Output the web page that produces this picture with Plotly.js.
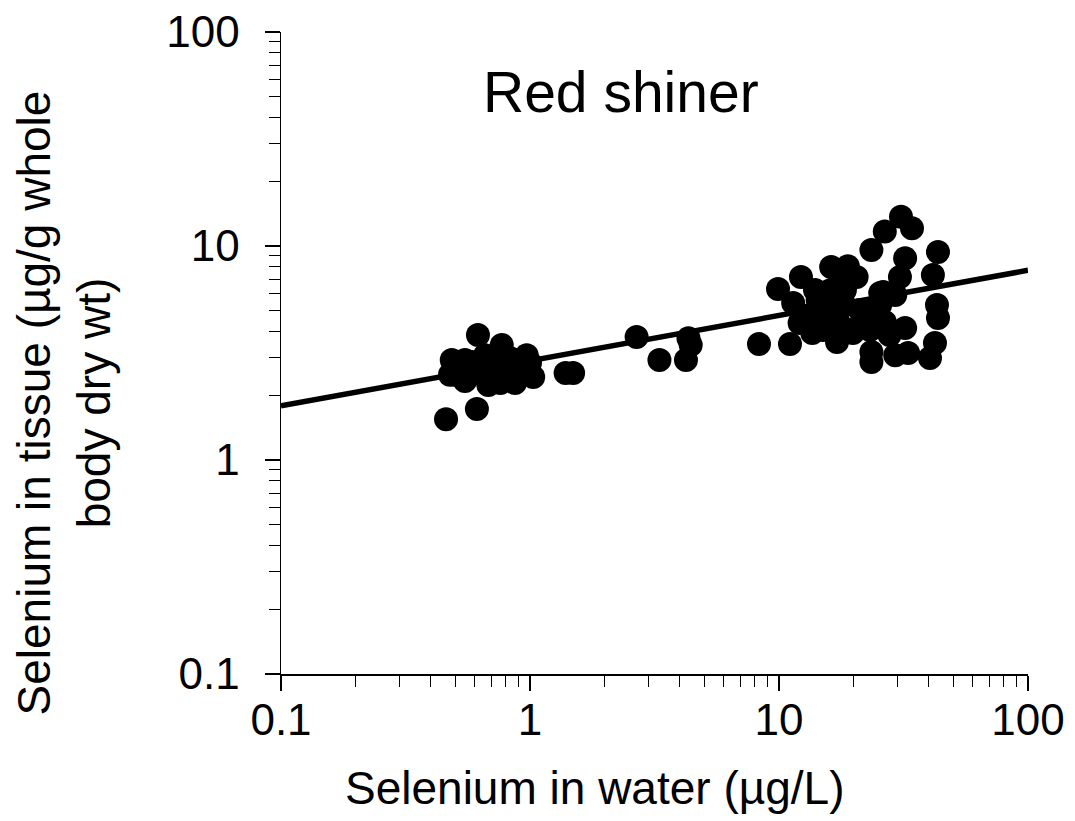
<!DOCTYPE html>
<html>
<head>
<meta charset="utf-8">
<script src="https://cdn.plot.ly/plotly-3.0.1.min.js"></script>
<style>html,body{margin:0;padding:0;background:#fff;}#chart{width:1075px;height:821px;}</style>
</head>
<body>
<div id="chart"></div>
<script>
// Selenium in water (µg/L)
const waterSe = [
  // low cluster
  0.618,0.460,0.612,1.39,1.49,0.77,0.97,0.51,0.548,0.68,0.87,1.03,1.0,0.585,0.50,0.485,0.477,0.72,0.79,0.91,0.66,0.83,0.72,0.575,
  0.548,0.69,0.87,0.76,0.63,0.955,
  // middle
  2.68,3.31,4.23,4.33,4.42,
  // high cluster
  8.31,11.07,9.91,12.25,16.2,18.9,30.9,34.2,26.6,23.5,43.5,32.1,41.5,30.6,26.2,43.1,43.5,42.3,40.4,33.0,29.3,23.5,23.5,32.1,26.6,17.1,13.6,12.1,11.4,19.8,25.5,17.6,20.5,14.3,15.2,18.3,22.0,16.0,
  13.95,15.95,18.4,21.1,19.3,15.0,23.2,25.5,29.3,27.8,13.3,17.2
];
// Selenium in tissue (µg/g whole body dry wt)
const tissueSe = [
  3.84,1.55,1.73,2.55,2.55,3.45,3.09,2.69,2.34,2.24,2.29,2.44,2.84,2.87,2.50,2.93,2.50,2.78,2.58,2.63,3.09,3.0,2.36,2.5,
  2.93,2.87,2.93,2.29,2.58,2.63,
  3.76,2.93,2.93,3.71,3.45,
  3.48,3.48,6.30,7.16,7.97,8.05,13.7,12.1,11.7,9.58,9.37,8.77,7.32,7.16,6.10,5.30,4.61,3.52,3.0,3.16,3.09,3.20,2.87,4.14,4.42,3.56,3.92,4.37,5.42,3.92,6.03,6.94,7.16,5.59,4.75,5.30,4.75,6.2,
  6.23,5.59,6.23,5.02,4.05,4.05,4.05,5.30,5.9,3.84,4.76,4.51
];
// Fitted trend line endpoints
const trendX = [0.1, 100];
const trendY = [1.79, 7.7];

const tickVals = [0.1, 1, 10, 100];
const tickText = ["0.1", "1", "10", "100"];

const FONT = "Liberation Sans, Arial, sans-serif";

const traces = [
  {
    x: waterSe, y: tissueSe, type: "scatter", mode: "markers",
    marker: {color: "#000", size: 24, line: {width: 0}},
    hoverinfo: "x+y", showlegend: false
  },
  {
    x: trendX, y: trendY, type: "scatter", mode: "lines",
    line: {color: "#000", width: 5.5},
    hoverinfo: "skip", showlegend: false
  }
];

const axisCommon = {
  type: "log",
  showgrid: false, zeroline: false,
  showline: true, linecolor: "#000", linewidth: 1.5,
  ticks: "outside", ticklen: 15, tickwidth: 1.5, tickcolor: "#000",
  tickvals: tickVals, ticktext: tickText,
  tickfont: {family: FONT, size: 44, color: "#000"},
  minor: {ticks: "outside", ticklen: 11, tickwidth: 1, tickcolor: "#000", dtick: "D1", showgrid: false},
  fixedrange: true
};

const layout = {
  width: 1075, height: 821,
  margin: {l: 281, r: 47, t: 32, b: 147, pad: 0},
  paper_bgcolor: "#fff", plot_bgcolor: "#fff",
  font: {family: FONT, color: "#000"},
  xaxis: Object.assign({}, axisCommon, {range: [-1, 2], ticklabelstandoff: -8}),
  yaxis: Object.assign({}, axisCommon, {range: [-1, 2], ticklabelstandoff: 16}),
  annotations: [
    {text: "Red shiner", xref: "paper", yref: "paper", x: 0.4545, y: 0.907,
     xanchor: "center", yanchor: "middle", showarrow: false,
     font: {family: FONT, size: 57, color: "#000"}},
    {text: "Selenium in water (µg/L)", xref: "paper", yref: "paper", x: 0.4203, y: -0.178,
     xanchor: "center", yanchor: "middle", showarrow: false,
     font: {family: FONT, size: 46, color: "#000"}},
    {text: "Selenium in tissue (µg/g whole<br>body dry wt)", xref: "paper", yref: "paper", x: -0.29, y: 0.422,
     xanchor: "center", yanchor: "middle", showarrow: false, textangle: -90,
     font: {family: FONT, size: 46, color: "#000"}}
  ]
};

Plotly.newPlot("chart", traces, layout, {staticPlot: true, displayModeBar: false});
</script>
</body>
</html>
